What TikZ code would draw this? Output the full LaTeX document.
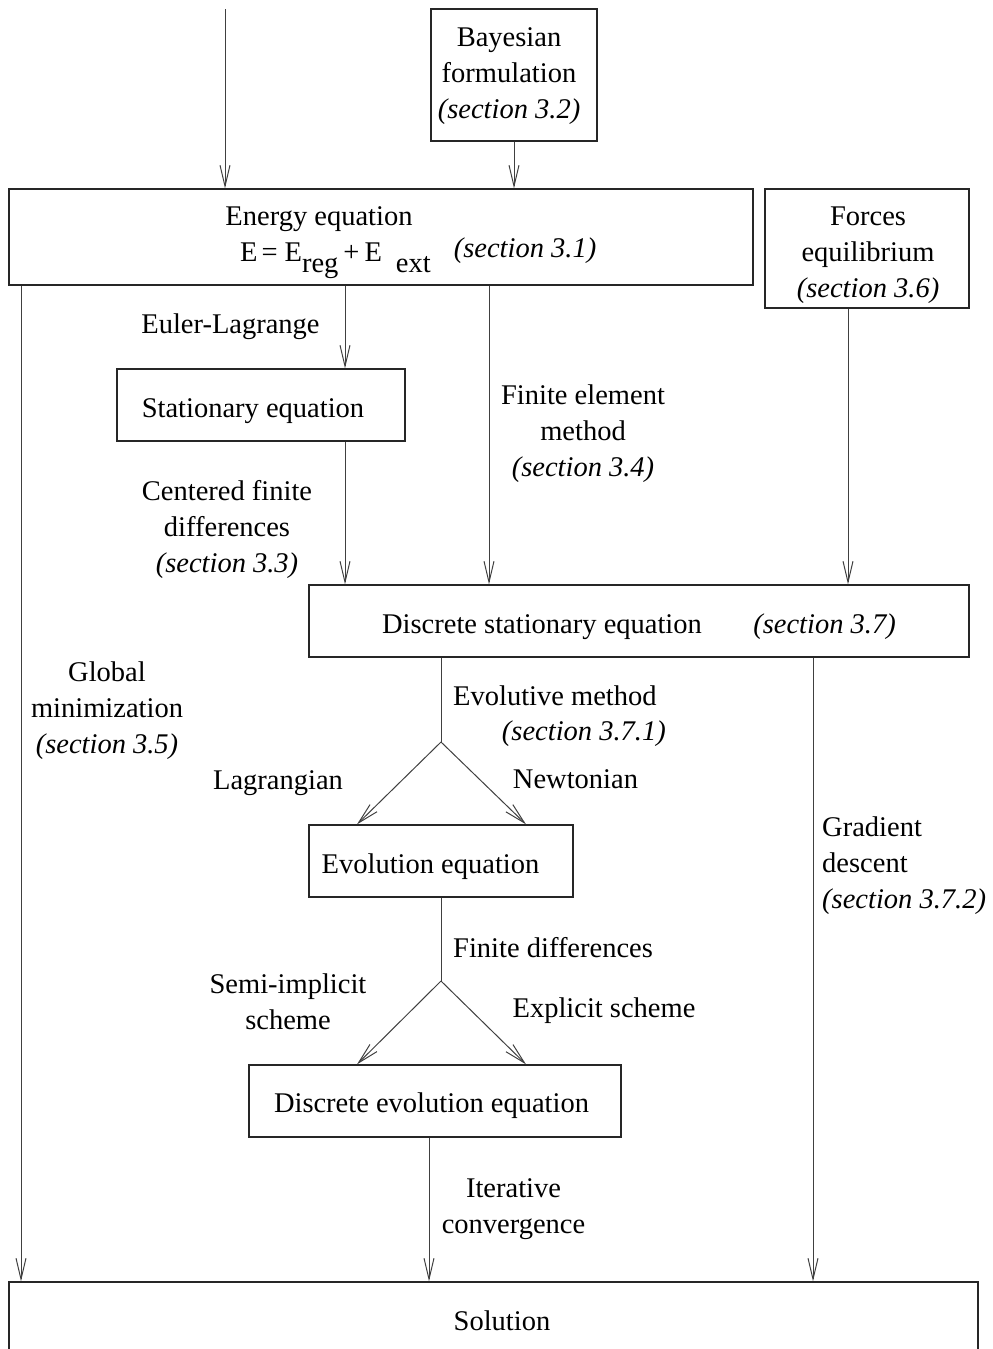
\documentclass[tikz,border=0pt]{standalone}
\usepackage{fontspec}
\setmainfont{Liberation Serif}
\usetikzlibrary{arrows.meta}
\newcommand{\mlc}[1]{\begin{tabular}[t]{@{}c@{}}#1\end{tabular}}
\newcommand{\mll}[1]{\begin{tabular}[t]{@{}l@{}}#1\end{tabular}}
\begin{document}
\begin{tikzpicture}[x=1pt,y=-1pt,
  box/.style={draw=black!85, line width=1.3pt, inner sep=0pt},
  txt/.style={inner sep=0pt, font=\fontsize{28.5}{36}\selectfont, text=black},
  conn/.style={draw=black!75, line width=1pt, -{Straight Barb[length=21pt,width=10pt]}},
  plainline/.style={draw=black!75, line width=1pt}]
\useasboundingbox (0,0) rectangle (993,1349);

% boxes
\node[box, minimum width=166pt, minimum height=132pt] (bay) at (514,75) {};
\node[box, minimum width=744pt, minimum height=96pt] (eng) at (381,237) {};
\node[box, minimum width=204pt, minimum height=119pt] (for) at (867,248.5) {};
\node[box, minimum width=288pt, minimum height=72pt] (stat) at (261,405) {};
\node[box, minimum width=660pt, minimum height=72pt] (ds) at (639,621) {};
\node[box, minimum width=264pt, minimum height=72pt] (ev) at (441,861) {};
\node[box, minimum width=372pt, minimum height=72pt] (dev) at (435,1101) {};
\node[box, minimum width=969pt, minimum height=118pt] (sol) at (493.5,1341) {};

% box texts
\node[txt, anchor=base] (bayT) at (509,46) {\mlc{Bayesian\\formulation\\\textit{(section 3.2)}}};
\node[txt, anchor=base] (engT) at (319,225) {Energy equation};
\node[txt, anchor=base west] (engE) at (240,261) {E\hspace{4pt}=\hspace{7pt}E\raisebox{-11pt}{reg}\hspace{5pt}+\hspace{5pt}E\hspace{14pt}\raisebox{-11pt}{ext}};
\node[txt, anchor=base] (engS) at (525,257) {\textit{(section 3.1)}};
\node[txt, anchor=base] (forT) at (868,225) {\mlc{Forces\\equilibrium\\\textit{(section 3.6)}}};
\node[txt, anchor=base] (statT) at (253,417) {Stationary equation};
\node[txt, anchor=base] (dsT) at (542,633) {Discrete stationary equation};
\node[txt, anchor=base] (dsS) at (824.5,633) {\textit{(section 3.7)}};
\node[txt, anchor=base] (evT) at (430.5,873) {Evolution equation};
\node[txt, anchor=base] (devT) at (431.5,1112) {Discrete evolution equation};
\node[txt, anchor=base] (solT) at (502,1330) {Solution};

% connector labels
\node[txt, anchor=base] (eulerL) at (230.5,333) {Euler-Lagrange};
\node[txt, anchor=base] (femL) at (583,404) {\mlc{Finite element\\method\\\textit{(section 3.4)}}};
\node[txt, anchor=base] (cfdL) at (227,500) {\mlc{Centered finite\\differences\\\textit{(section 3.3)}}};
\node[txt, anchor=base] (globL) at (107,681) {\mlc{Global\\minimization\\\textit{(section 3.5)}}};
\node[txt, anchor=base west] (evoL) at (453,705) {Evolutive method};
\node[txt, anchor=base east] (evoS) at (666,740) {\textit{(section 3.7.1)}};
\node[txt, anchor=base] (lagL) at (278,789) {Lagrangian};
\node[txt, anchor=base] (newL) at (575.5,788) {Newtonian};
\node[txt, anchor=base west] (gradL) at (822,836) {\mll{Gradient\\descent\\\textit{(section 3.7.2)}}};
\node[txt, anchor=base west] (fdL) at (453,957) {Finite differences};
\node[txt, anchor=base] (semiL) at (288,993) {\mlc{Semi-implicit\\scheme}};
\node[txt, anchor=base] (explL) at (604,1017) {Explicit scheme};
\node[txt, anchor=base] (itL) at (513.5,1197) {\mlc{Iterative\\convergence}};

% connector positions
\coordinate (topin) at (225,9);
\coordinate (xa) at (21,0);
\coordinate (xb) at (345,0);
\coordinate (xc) at (489,0);
\coordinate (xd) at (848,0);
\coordinate (xe) at (813,0);
\coordinate (xf) at (429,0);
\coordinate (sp1) at (441,742);
\coordinate (sp2) at (441,981);
\coordinate (xl) at (357,0);
\coordinate (xr) at (526,0);

% connectors
\draw[conn] (topin) -- (topin |- eng.north);
\draw[conn] (bay.south) -- (bay.south |- eng.north);
\draw[conn] (xa |- eng.south) -- (xa |- sol.north);
\draw[conn] (xb |- eng.south) -- (xb |- stat.north);
\draw[conn] (xc |- eng.south) -- (xc |- ds.north);
\draw[conn] (xb |- stat.south) -- (xb |- ds.north);
\draw[conn] (xd |- for.south) -- (xd |- ds.north);
\draw[plainline] (sp1 |- ds.south) -- (sp1);
\draw[conn] (sp1) -- (xl |- ev.north);
\draw[conn] (sp1) -- (xr |- ev.north);
\draw[conn] (xe |- ds.south) -- (xe |- sol.north);
\draw[plainline] (sp2 |- ev.south) -- (sp2);
\draw[conn] (sp2) -- (xl |- dev.north);
\draw[conn] (sp2) -- (xr |- dev.north);
\draw[conn] (xf |- dev.south) -- (xf |- sol.north);
\end{tikzpicture}
\end{document}
